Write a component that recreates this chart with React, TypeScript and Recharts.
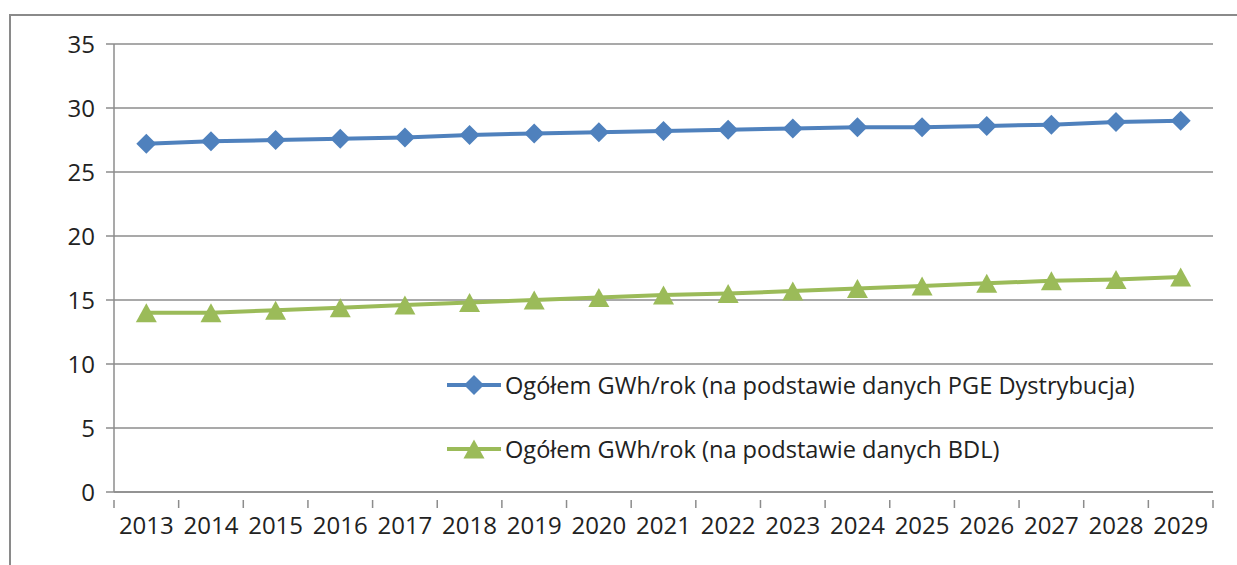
import React from 'react';
import { LineChart, Line, XAxis, YAxis, CartesianGrid } from 'recharts';

const years = ['2013', '2014', '2015', '2016', '2017', '2018', '2019', '2020', '2021', '2022', '2023', '2024', '2025', '2026', '2027', '2028', '2029'];
const pgeValues = [27.2, 27.4, 27.5, 27.6, 27.7, 27.9, 28.0, 28.1, 28.2, 28.3, 28.4, 28.5, 28.5, 28.6, 28.7, 28.9, 29.0];
const bdlValues = [14.0, 14.0, 14.2, 14.4, 14.6, 14.8, 15.0, 15.2, 15.4, 15.5, 15.7, 15.9, 16.1, 16.3, 16.5, 16.6, 16.8];
const yTicks = [0, 5, 10, 15, 20, 25, 30, 35];

const PGE_NAME = 'Ogółem GWh/rok (na podstawie danych PGE Dystrybucja)';
const BDL_NAME = 'Ogółem GWh/rok (na podstawie danych BDL)';

const BLUE = '#4f81bd';
const GREEN = '#9bbb59';
const GRID = '#8c8c8c';
const FONT = '"Open Sans", sans-serif';

// category slot i sits in the middle of [i, i+1] so tick marks fall between years
const data = years.map((year, i) => ({
  x: i + 0.5,
  year,
  pge: pgeValues[i],
  bdl: bdlValues[i],
}));

// boundaries (integers) get a tick mark, centres get the year label
const xTicks: number[] = [];
for (let i = 0; i <= years.length * 2; i++) xTicks.push(i / 2);

const series = [
  { key: 'pge', name: PGE_NAME, color: BLUE },
  { key: 'bdl', name: BDL_NAME, color: GREEN },
];

const Diamond = ({ cx, cy, fill }: any) => {
  if (cx == null || cy == null) return null;
  const r = 10;
  return <polygon points={`${cx},${cy - r} ${cx + r},${cy} ${cx},${cy + r} ${cx - r},${cy}`} fill={fill} />;
};

const Triangle = ({ cx, cy, fill }: any) => {
  if (cx == null || cy == null) return null;
  const w = 10.5;
  const h = 9.5;
  return <polygon points={`${cx},${cy - h} ${cx + w},${cy + h} ${cx - w},${cy + h}`} fill={fill} />;
};

const XTick = ({ x, y, payload }: any) => {
  const v = payload.value as number;
  if (Number.isInteger(v)) {
    return <line x1={x} y1={y} x2={x} y2={y + 8} stroke={GRID} strokeWidth={1.5} />;
  }
  const label = years[Math.floor(v)];
  return (
    <text x={x} y={y + 34} textAnchor="middle" fontSize={24} fontFamily={FONT} fill="#222">
      {label}
    </text>
  );
};

const ChartLegend = () => (
  <div style={{ position: 'absolute', left: 445, top: 353, fontFamily: FONT, fontSize: 23.6, color: '#222' }}>
    {series.map((s) => (
      <div key={s.key} style={{ display: 'flex', alignItems: 'center', height: 64, whiteSpace: 'nowrap' }}>
        <svg width={58} height={24} style={{ marginRight: 2 }}>
          <line x1={2} y1={12} x2={56} y2={12} stroke={s.color} strokeWidth={4} />
          {s.key === 'pge' ? <Diamond cx={29} cy={12} fill={s.color} /> : <Triangle cx={29} cy={12} fill={s.color} />}
        </svg>
        <span>{s.name}</span>
      </div>
    ))}
  </div>
);

export default function App() {
  return (
    <div style={{ position: 'absolute', left: 0, top: 0, width: 1237, height: 565, background: '#fff' }}>
      <div
        style={{
          position: 'absolute',
          left: 9,
          top: 14,
          right: 0,
          bottom: 0,
          borderTop: '2px solid #8a8a8a',
          borderLeft: '2px solid #8a8a8a',
        }}
      />
      <LineChart
        width={1237}
        height={565}
        data={data}
        margin={{ top: 44, right: 24, bottom: 33, left: 54 }}
        style={{ position: 'absolute', left: 0, top: 0 }}
      >
        <CartesianGrid horizontal vertical={false} stroke={GRID} strokeWidth={1.5} />
        <XAxis
          dataKey="x"
          type="number"
          domain={[0, years.length]}
          ticks={xTicks}
          interval={0}
          height={40}
          axisLine={{ stroke: GRID, strokeWidth: 1.5 }}
          tickLine={false}
          tick={<XTick />}
          allowDecimals
        />
        <YAxis
          domain={[0, 35]}
          ticks={yTicks}
          width={60}
          axisLine={{ stroke: GRID, strokeWidth: 1.5 }}
          tickLine={{ stroke: GRID, strokeWidth: 1.5 }}
          tickSize={8}
          tickMargin={11}
          tick={{ fontSize: 24, fontFamily: FONT, fill: '#222' }}
        />
        <Line
          dataKey="pge"
          name={PGE_NAME}
          stroke={BLUE}
          strokeWidth={4}
          dot={<Diamond fill={BLUE} />}
          isAnimationActive={false}
        />
        <Line
          dataKey="bdl"
          name={BDL_NAME}
          stroke={GREEN}
          strokeWidth={4}
          dot={<Triangle fill={GREEN} />}
          isAnimationActive={false}
        />
      </LineChart>
      <ChartLegend />
    </div>
  );
}
